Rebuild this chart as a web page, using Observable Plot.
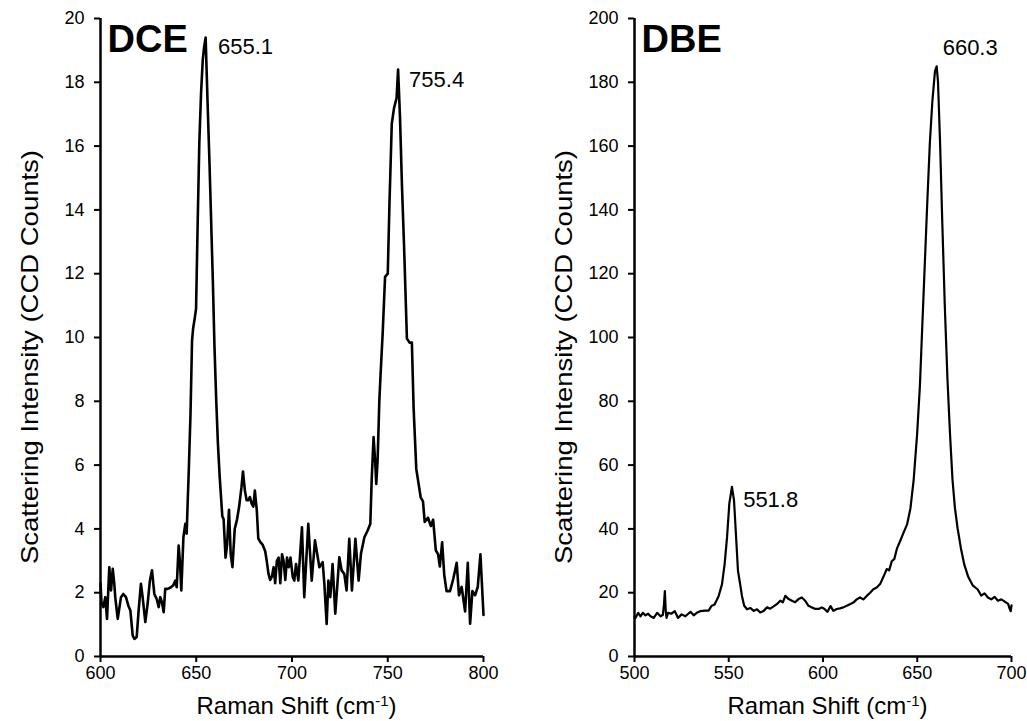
<!DOCTYPE html>
<html><head><meta charset="utf-8">
<script src="https://cdn.jsdelivr.net/npm/d3@7"></script>
<script src="https://cdn.jsdelivr.net/npm/@observablehq/plot@0.6"></script>
<style>
body{margin:0;background:#fff;}
#wrap{display:flex;width:1027px;height:721px;overflow:hidden;}
</style></head><body><div id="wrap"></div>
<script>
// ---- DCE spectrum (Raman shift in cm-1, intensity in CCD counts)
const dceShift = [600.0,600.5,601.5,602.5,603.4,604.6,605.5,606.4,607.2,607.7,609.0,610.7,611.9,613.3,614.5,615.6,616.8,617.7,618.9,619.9,621.1,622.0,623.4,624.6,625.8,626.9,628.1,629.3,630.4,631.2,632.1,633.0,633.8,635.1,636.8,638.0,639.1,639.8,640.8,641.5,642.2,643.3,644.3,645.0,645.5,646.1,647.0,647.8,648.4,649.2,649.9,650.75,651.6,652.5,653.4,654.1,654.9,655.9,656.9,657.8,658.7,659.5,660.4,661.3,662.2,663.6,664.3,665.3,666.1,667.1,668.0,668.9,670.1,671.3,672.4,673.6,674.4,675.4,676.3,677.2,678.0,678.9,679.8,680.6,681.6,682.4,683.3,684.7,686.0,686.8,687.7,688.6,689.5,690.4,691.2,692.1,693.0,693.9,694.8,695.6,696.5,697.4,698.3,699.2,700.4,701.2,702.1,703.3,705.2,706.4,708.5,710.3,712.0,714.3,716.0,716.9,718.1,719.0,720.0,721.2,722.6,724.7,725.9,727.3,728.5,729.9,731.3,733.1,734.8,736.0,737.8,739.5,740.9,741.6,742.6,743.5,744.0,744.7,745.6,746.1,747.4,748.6,750.0,750.9,752.1,753.3,754.6,755.4,756.4,757.4,758.5,760.0,761.4,762.6,763.5,764.9,767.2,768.4,769.3,771.0,772.5,773.7,775.1,776.3,777.2,778.4,779.5,780.7,782.5,784.2,786.0,787.2,788.6,790.4,791.8,793.0,794.2,795.6,797.0,798.4,800.0];
const dceIntensity = [2.3,1.7,1.55,1.86,1.18,2.8,2.07,2.75,2.28,1.86,1.18,1.86,1.96,1.86,1.6,1.44,0.66,0.55,0.61,1.44,2.28,1.86,1.08,1.65,2.38,2.7,1.96,1.81,1.55,1.86,1.7,1.39,2.12,2.12,2.17,2.23,2.38,2.17,3.48,2.96,2.07,3.74,4.16,3.85,4.79,5.83,7.6,9.9,10.3,10.6,10.9,13.6,16.1,17.65,18.7,19.1,19.4,17.4,15.5,13.6,11.7,9.75,8.09,6.69,5.67,4.4,4.3,3.1,3.5,4.6,3.2,2.8,4.0,4.3,4.7,5.3,5.8,5.2,4.9,4.9,5.0,4.8,4.7,5.2,4.6,3.7,3.6,3.5,3.3,3.0,2.6,2.4,2.5,2.8,2.3,3.0,3.1,2.3,3.2,3.0,2.4,3.1,2.8,3.1,2.49,2.38,2.9,2.38,4.05,1.86,4.16,2.38,3.64,2.8,2.96,2.28,1.02,2.38,1.86,2.9,1.34,3.11,2.7,2.59,2.07,3.69,2.07,3.69,2.38,3.22,3.74,3.95,4.16,5.52,6.88,6.04,5.41,6.14,8.0,8.65,10.2,11.9,12.0,14.2,16.7,17.2,17.5,18.4,16.9,14.8,12.9,9.97,9.84,9.84,7.8,5.88,4.99,4.86,4.22,4.35,4.09,4.29,3.33,3.2,2.82,3.58,2.56,2.05,2.05,2.43,2.94,1.92,2.18,1.41,2.94,1.03,2.05,1.92,2.18,3.2,1.3];

// ---- DBE spectrum
const dbeShift = [500.0,500.5,502.0,503.2,504.4,505.8,507.2,508.5,510.2,512.0,513.8,515.0,515.6,516.1,516.6,517.0,517.8,519.5,521.4,523.1,525.0,527.0,528.5,529.7,531.4,533.0,534.9,537.6,539.3,540.8,542.5,544.6,546.4,547.8,549.1,550.3,551.7,552.8,553.9,554.9,556.1,557.0,558.2,559.7,561.5,563.2,565.0,566.7,568.5,570.3,572.0,573.8,575.5,577.3,578.7,580.0,581.8,583.5,585.2,587.0,588.8,590.5,592.3,594.0,596.0,597.7,599.4,600.8,602.4,604.0,605.5,607.3,609.0,610.8,612.6,614.3,616.1,617.9,619.6,621.4,623.2,625.0,626.7,628.5,630.3,632.0,633.8,635.1,636.5,637.8,639.2,641.0,642.8,644.6,646.4,648.1,649.9,651.4,652.6,654.0,655.3,656.7,658.0,659.4,660.3,661.0,662.1,663.3,664.6,666.0,667.4,668.7,670.0,671.4,673.2,675.0,677.1,679.4,682.1,683.9,685.7,687.5,689.3,691.0,692.8,694.6,696.4,698.2,699.0,699.6,700.0];
const dbeIntensity = [12.5,12.1,13.7,12.6,13.7,12.9,13.4,12.6,12.1,13.7,12.6,13.0,16.0,20.5,14.0,12.1,13.7,13.4,14.2,12.1,13.2,12.6,13.4,14.0,12.9,13.7,14.2,14.4,14.4,15.8,16.3,18.9,22.6,28.9,37.4,47.9,53.2,48.9,37.4,26.8,22.5,19.0,15.9,14.8,15.2,14.3,14.8,13.8,14.3,15.4,15.0,15.7,16.4,17.5,17.0,19.0,18.0,17.5,17.0,18.0,18.5,17.5,15.9,15.4,14.9,14.9,15.4,14.9,14.0,15.8,14.3,14.9,15.1,15.4,15.9,16.4,16.9,17.9,18.5,17.9,19.0,20.0,21.1,21.6,22.7,24.9,27.4,27.0,29.9,30.5,33.8,36.3,38.9,41.4,46.5,55.4,69.5,84.7,102.6,123.0,142.1,161.2,173.9,183.5,185.0,180.3,161.2,135.7,110.2,87.3,69.5,55.4,46.5,40.2,33.8,28.7,24.9,22.3,21.0,19.1,19.8,18.5,17.9,18.7,17.5,17.9,17.2,16.5,15.0,14.2,16.0];

// ---- Axis ticks
const dceXTicks = [600, 650, 700, 750, 800];
const dceYTicks = [0, 2, 4, 6, 8, 10, 12, 14, 16, 18, 20];
const dbeXTicks = [500, 550, 600, 650, 700];
const dbeYTicks = [0, 20, 40, 60, 80, 100, 120, 140, 160, 180, 200];

// ---- Peak annotations
const dcePeakShift = [655.1, 755.4];
const dcePeakValue = [19.4, 18.4];
const dcePeakLabel = ["655.1", "755.4"];
const dbePeakShift = [551.8, 660.3];
const dbePeakValue = [53.2, 185.0];
const dbePeakLabel = ["551.8", "660.3"];

const yTitle = "Scattering Intensity (CCD Counts)";
const FONT = "'Liberation Sans', Arial, Helvetica, sans-serif";

function panel(opts) {
  const data = opts.shift.map((s, i) => ({shift: s, intensity: opts.intensity[i]}));
  const peaks = opts.peakShift.map((s, i) => ({shift: s, value: opts.peakValue[i], label: opts.peakLabel[i]}));
  const x0 = opts.xTicks[0], x1 = opts.xTicks[opts.xTicks.length - 1];
  const y0 = opts.yTicks[0], y1 = opts.yTicks[opts.yTicks.length - 1];
  const chart = Plot.plot({
    width: opts.width,
    height: 721,
    marginLeft: opts.marginLeft,
    marginRight: opts.marginRight,
    marginTop: 18,
    marginBottom: 65,
    style: {fontFamily: FONT, fontSize: "18px", color: "black", background: "white", overflow: "visible"},
    x: {domain: [x0, x1]},
    y: {domain: [y0, y1]},
    marks: [
      Plot.axisX({ticks: opts.xTicks, tickSize: 6, tickPadding: 4, strokeWidth: 2, fontSize: 18, label: null}),
      Plot.axisY({ticks: opts.yTicks, tickSize: 6, tickPadding: 10, strokeWidth: 2, fontSize: 18, label: null}),
      Plot.ruleX([x0], {y1: y0, y2: y1, stroke: "black", strokeWidth: 2.5}),
      Plot.ruleY([y0], {x1: x0, x2: x1, stroke: "black", strokeWidth: 2.5}),
      Plot.line(data, {x: "shift", y: "intensity", stroke: "black", strokeWidth: opts.lineWidth, strokeLinejoin: "round"}),
      // peak labels: one mark per label so each keeps its own offset
      ...peaks.map((p, i) => Plot.text([p], {x: "shift", y: "value", text: "label", textAnchor: "start",
        dx: opts.labelDx[i], dy: opts.labelDy[i], fontSize: 22, fill: "black"})),
      Plot.text([opts.name], {frameAnchor: "top-left", textAnchor: "start", lineAnchor: "top", dx: 7, dy: 7, fontSize: 38, fontWeight: "bold", fill: "black"})
    ]
  });
  const svg = d3.select(chart);
  // y-axis title
  const sy = chart.scale("y");
  const cy = (sy.apply(y0) + sy.apply(y1)) / 2 + 20;
  svg.append("text")
    .attr("transform", `translate(${opts.marginLeft - 62},${cy}) rotate(-90)`)
    .attr("text-anchor", "middle")
    .attr("font-size", 24)
    .attr("font-family", FONT)
    .attr("fill", "black")
    .attr("textLength", 414)
    .attr("lengthAdjust", "spacingAndGlyphs")
    .text(yTitle);
  // x-axis title with superscript
  const sx = chart.scale("x");
  const cx = (sx.apply(x0) + sx.apply(x1)) / 2 + 5;
  const t = svg.append("text")
    .attr("x", cx).attr("y", 714)
    .attr("text-anchor", "middle")
    .attr("font-size", 24)
    .attr("font-family", FONT)
    .attr("fill", "black");
  t.append("tspan").text("Raman Shift (cm");
  t.append("tspan").attr("baseline-shift", "super").attr("font-size", 15).text("-1");
  t.append("tspan").text(")");
  return chart;
}

const wrap = document.getElementById("wrap");
wrap.appendChild(panel({
  name: "DCE", shift: dceShift, intensity: dceIntensity,
  xTicks: dceXTicks, yTicks: dceYTicks,
  peakShift: dcePeakShift, peakValue: dcePeakValue, peakLabel: dcePeakLabel,
  labelDx: [12, 11], labelDy: [9, 10],
  width: 513, marginLeft: 100, marginRight: 30, lineWidth: 2.6
}));
wrap.appendChild(panel({
  name: "DBE", shift: dbeShift, intensity: dbeIntensity,
  xTicks: dbeXTicks, yTicks: dbeYTicks,
  peakShift: dbePeakShift, peakValue: dbePeakValue, peakLabel: dbePeakLabel,
  labelDx: [11, 6], labelDy: [13, -18],
  width: 514, marginLeft: 121, marginRight: 16, lineWidth: 2.2
}));
</script>
</body></html>
